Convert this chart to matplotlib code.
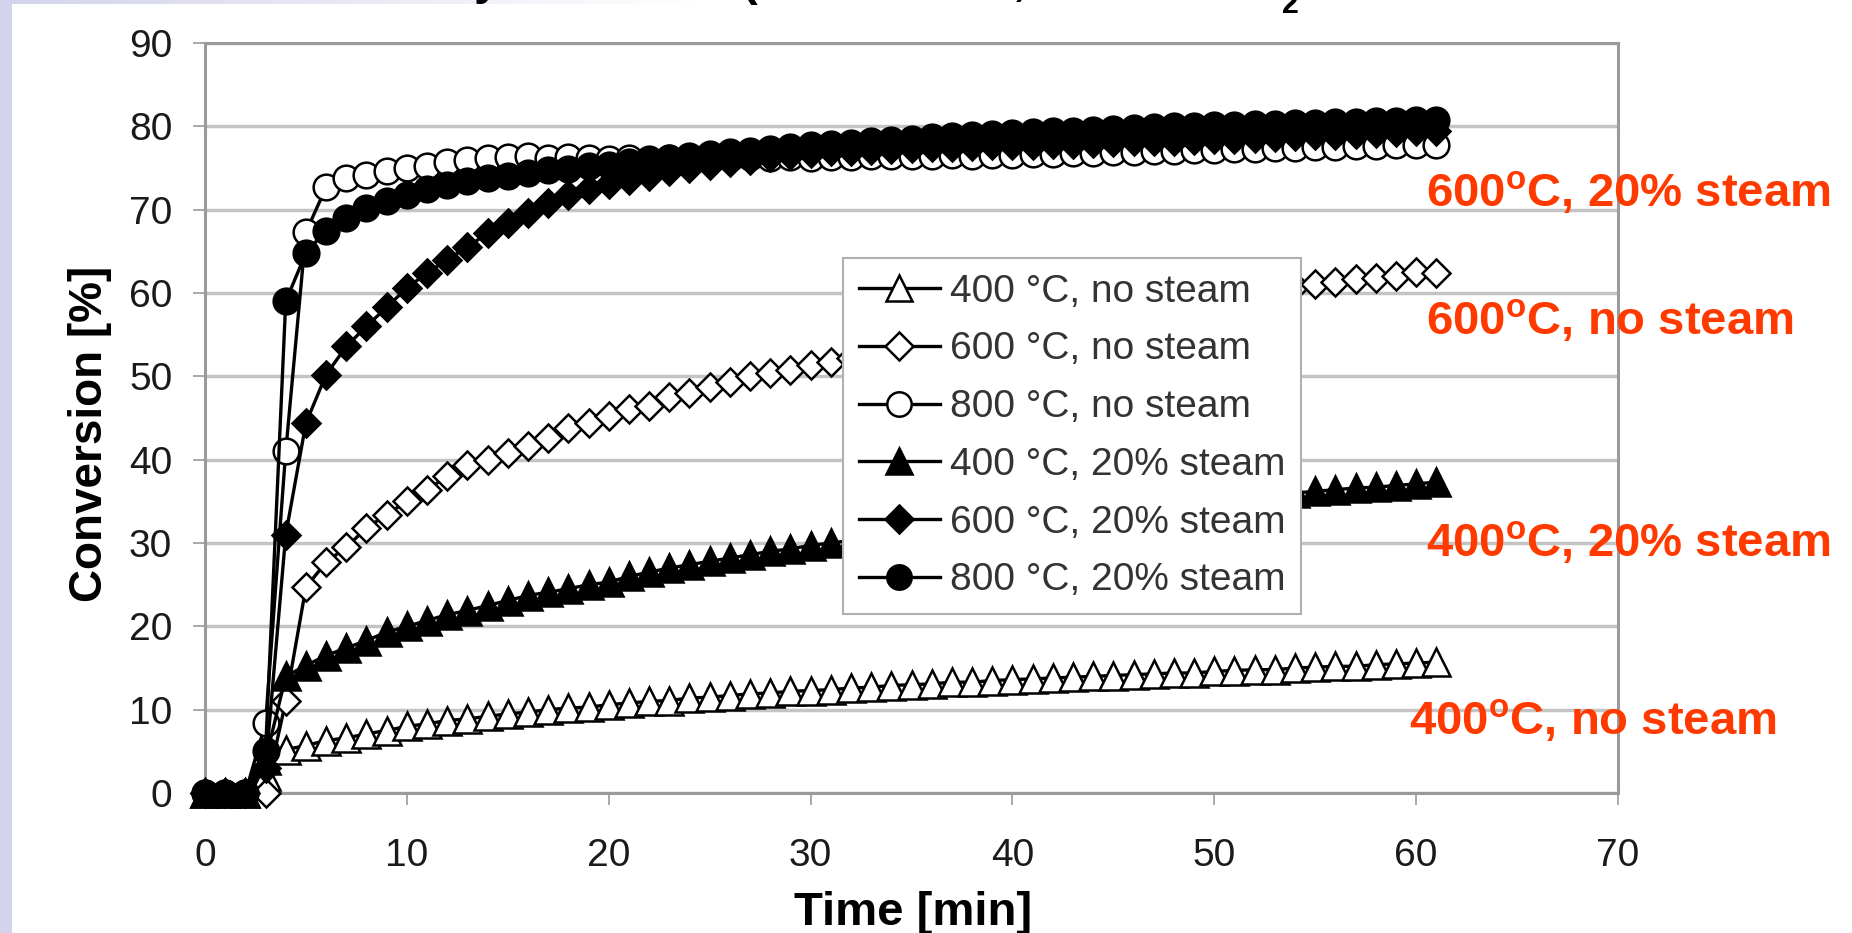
import numpy as np
import matplotlib
matplotlib.use('Agg')
import matplotlib.pyplot as plt
from matplotlib.patches import Rectangle

plt.rcParams['font.family'] = ['Liberation Sans', 'DejaVu Sans']
plt.rcParams['mathtext.fontset'] = 'custom'
plt.rcParams['mathtext.rm'] = 'Liberation Sans'
plt.rcParams['mathtext.bf'] = 'Liberation Sans:bold'

# sampling times [min]
minutes = np.arange(0, 62)

# conversion [%] for each run
conv_400_dry = [0, 0, 0, 2.0, 5.2, 5.7, 6.3, 6.6, 7.1, 7.5,
                8.0, 8.3, 8.7, 8.9, 9.2, 9.5, 9.7, 10.0, 10.2, 10.3,
                10.6, 10.8, 11.0, 11.1, 11.4, 11.5, 11.7, 11.9, 12.0, 12.2,
                12.3, 12.4, 12.6, 12.7, 12.9, 13.0, 13.1, 13.3, 13.3, 13.5,
                13.6, 13.7, 13.8, 13.9, 14.0, 14.1, 14.2, 14.3, 14.4, 14.4,
                14.6, 14.7, 14.8, 14.8, 15.0, 15.1, 15.2, 15.2, 15.4, 15.5,
                15.6, 15.7]
conv_600_dry = [0, 0, 0, 0, 11.0, 24.7, 27.7, 29.5, 31.8, 33.4,
                35.0, 36.4, 38.0, 39.4, 40.0, 40.8, 41.6, 42.6, 43.8, 44.4,
                45.2, 46.1, 46.5, 47.5, 48.0, 48.7, 49.3, 50.0, 50.4, 50.8,
                51.4, 51.7, 52.2, 52.8, 53.3, 53.8, 54.3, 54.8, 55.2, 55.6,
                56.0, 56.4, 56.8, 57.2, 57.6, 58.0, 58.3, 58.7, 59.0, 59.3,
                59.6, 59.9, 60.2, 60.5, 60.8, 61.1, 61.3, 61.7, 61.8, 62.0,
                62.5, 62.4]
conv_800_dry = [0, 0, 0, 8.4, 41.0, 67.3, 72.7, 73.8, 74.2, 74.6,
                75.0, 75.2, 75.7, 76.0, 76.2, 76.3, 76.4, 76.2, 76.3, 76.2,
                76.1, 76.2, 76.1, 76.2, 76.1, 76.2, 76.2, 76.3, 76.2, 76.3,
                76.2, 76.3, 76.3, 76.4, 76.4, 76.5, 76.5, 76.6, 76.5, 76.6,
                76.6, 76.7, 76.7, 76.8, 76.8, 76.9, 76.9, 77.0, 77.1, 77.2,
                77.2, 77.3, 77.3, 77.4, 77.4, 77.5, 77.5, 77.6, 77.6, 77.7,
                77.7, 77.8]
conv_400_wet = [0, 0, 0, 4.0, 14.0, 15.3, 16.5, 17.4, 18.3, 19.3,
                20.0, 20.7, 21.4, 21.9, 22.5, 23.1, 23.7, 24.1, 24.5, 25.0,
                25.3, 26.0, 26.5, 27.0, 27.4, 27.8, 28.2, 28.6, 29.0, 29.3,
                29.7, 30.0, 30.3, 30.6, 31.0, 31.3, 31.6, 31.9, 32.2, 32.5,
                32.8, 33.1, 33.4, 33.6, 33.9, 34.1, 34.4, 34.6, 34.8, 35.0,
                35.2, 35.4, 35.6, 35.8, 36.0, 36.2, 36.4, 36.6, 36.7, 36.9,
                37.1, 37.3]
conv_600_wet = [0, 0, 0, 3.0, 31.0, 44.4, 50.2, 53.6, 56.0, 58.3,
                60.6, 62.4, 64.0, 65.5, 67.2, 68.4, 69.6, 70.8, 71.8, 72.5,
                73.1, 73.6, 74.1, 74.6, 75.0, 75.4, 75.7, 76.0, 76.3, 76.6,
                76.8, 77.0, 77.1, 77.2, 77.3, 77.4, 77.5, 77.5, 77.6, 77.7,
                77.7, 77.8, 77.9, 77.9, 78.0, 78.1, 78.2, 78.2, 78.3, 78.4,
                78.5, 78.5, 78.6, 78.7, 78.8, 78.9, 79.0, 79.1, 79.2, 79.3,
                79.4, 79.5]
conv_800_wet = [0, 0, 0, 5.0, 59.0, 64.8, 67.5, 69.0, 70.2, 71.0,
                71.8, 72.5, 73.0, 73.4, 73.8, 74.1, 74.4, 74.7, 74.9, 75.2,
                75.4, 75.7, 75.9, 76.2, 76.4, 76.7, 76.9, 77.1, 77.3, 77.5,
                77.7, 77.9, 78.0, 78.2, 78.4, 78.5, 78.7, 78.8, 78.9, 79.1,
                79.2, 79.3, 79.4, 79.5, 79.6, 79.7, 79.8, 79.9, 80.0, 80.1,
                80.2, 80.2, 80.3, 80.3, 80.4, 80.4, 80.5, 80.5, 80.6, 80.6,
                80.7, 80.7]

series_labels = ['400 °C, no steam', '600 °C, no steam', '800 °C, no steam',
                 '400 °C, 20% steam', '600 °C, 20% steam', '800 °C, 20% steam']
side_labels = ['600$^{\\mathbf{o}}$C, 20% steam', '600$^{\\mathbf{o}}$C, no steam',
               '400$^{\\mathbf{o}}$C, 20% steam', '400$^{\\mathbf{o}}$C, no steam']

series = [conv_400_dry, conv_600_dry, conv_800_dry,
          conv_400_wet, conv_600_wet, conv_800_wet]
markers = ['^', 'D', 'o', '^', 'D', 'o']
faces = ['white', 'white', 'white', 'black', 'black', 'black']
sizes = [20, 14.5, 18.5, 20, 14.5, 18.5]

fig = plt.figure(figsize=(18.52, 9.33), dpi=100)
fig.patch.set_facecolor('white')

# lavender slide edge
fig.patches.append(Rectangle((0, 0), 12 / 1852, 1, transform=fig.transFigure,
                             facecolor='#d3d3ec', edgecolor='none', zorder=0))
band = fig.add_axes([0, 1 - 4 / 933, 700 / 1852, 4 / 933])
grad = np.ones((1, 256, 3))
fade = np.linspace(0, 1, 256)
grad[0, :, 0] = 0.827 + (1 - 0.827) * fade
grad[0, :, 1] = 0.827 + (1 - 0.827) * fade
grad[0, :, 2] = 0.925 + (1 - 0.925) * fade
band.imshow(grad, aspect='auto', extent=(0, 1, 0, 1))
band.axis('off')

ax = fig.add_axes([205 / 1852, 1 - 793 / 933, 1413 / 1852, 750 / 933])

for vals, lab, mk, fc, ms in zip(series, series_labels, markers, faces, sizes):
    ax.plot(minutes, vals, color='black', lw=2.4, marker=mk, ms=ms,
            mfc=fc, mec='black', mew=1.8, label=lab, clip_on=False, zorder=3)

ax.set_xlim(0, 70)
ax.set_ylim(0, 90)
ax.set_xticks(range(0, 71, 10))
ax.set_yticks(range(0, 91, 10))
ax.yaxis.grid(True, color='#c4c4c4', linewidth=2.5)
ax.set_axisbelow(True)
for side in ['left', 'bottom', 'top', 'right']:
    ax.spines[side].set_color('#9a9a9a')
    ax.spines[side].set_linewidth(2.2)
ax.tick_params(axis='both', direction='out', length=8.6, width=1.2,
               color='#9a9a9a', labelsize=28, labelcolor='#1a1a1a')
ax.tick_params(axis='y', pad=15)
ax.tick_params(axis='x', pad=24)

leg = ax.legend(loc='upper left', bbox_to_anchor=(0.4515, 0.7133),
                borderaxespad=0, fontsize=28, frameon=True, fancybox=False,
                edgecolor='#b0b0b0', framealpha=1, handlelength=2.1,
                handletextpad=0.25, labelspacing=0.56, borderpad=0.4,
                markerscale=0.95)
leg.get_frame().set_linewidth(1.5)
for t in leg.get_texts():
    t.set_color('#333333')
leg.set_zorder(5)

fig.text(90 / 1852, 1 - 434 / 933, 'Conversion [%]', rotation=90,
         ha='center', va='center', fontsize=33, fontweight='bold')
fig.text(913 / 1852, 1 - 925 / 933, 'Time [min]', ha='center',
         va='baseline', fontsize=34, fontweight='bold')

# labels at the right of the curves
side_x = [1426, 1426, 1426, 1409]
side_base = [206, 334, 557, 735]
for lab, sx, sy in zip(side_labels, side_x, side_base):
    fig.text(sx / 1852, 1 - sy / 933, lab, color='#ff3a00', fontsize=34,
             fontweight='bold', ha='left', va='baseline')

# bottom of the heading, cut by the page edge
for ch, hx, hy, hs in [('y', 487, -6, 34), ('(', 750, -5, 34),
                       (',', 1019, -5, 34), ('2', 1290, 13, 22)]:
    fig.text(hx / 1852, 1 - hy / 933, ch, fontsize=hs, fontweight='bold',
             ha='center', va='baseline')

fig.savefig('out.png', dpi=100)
